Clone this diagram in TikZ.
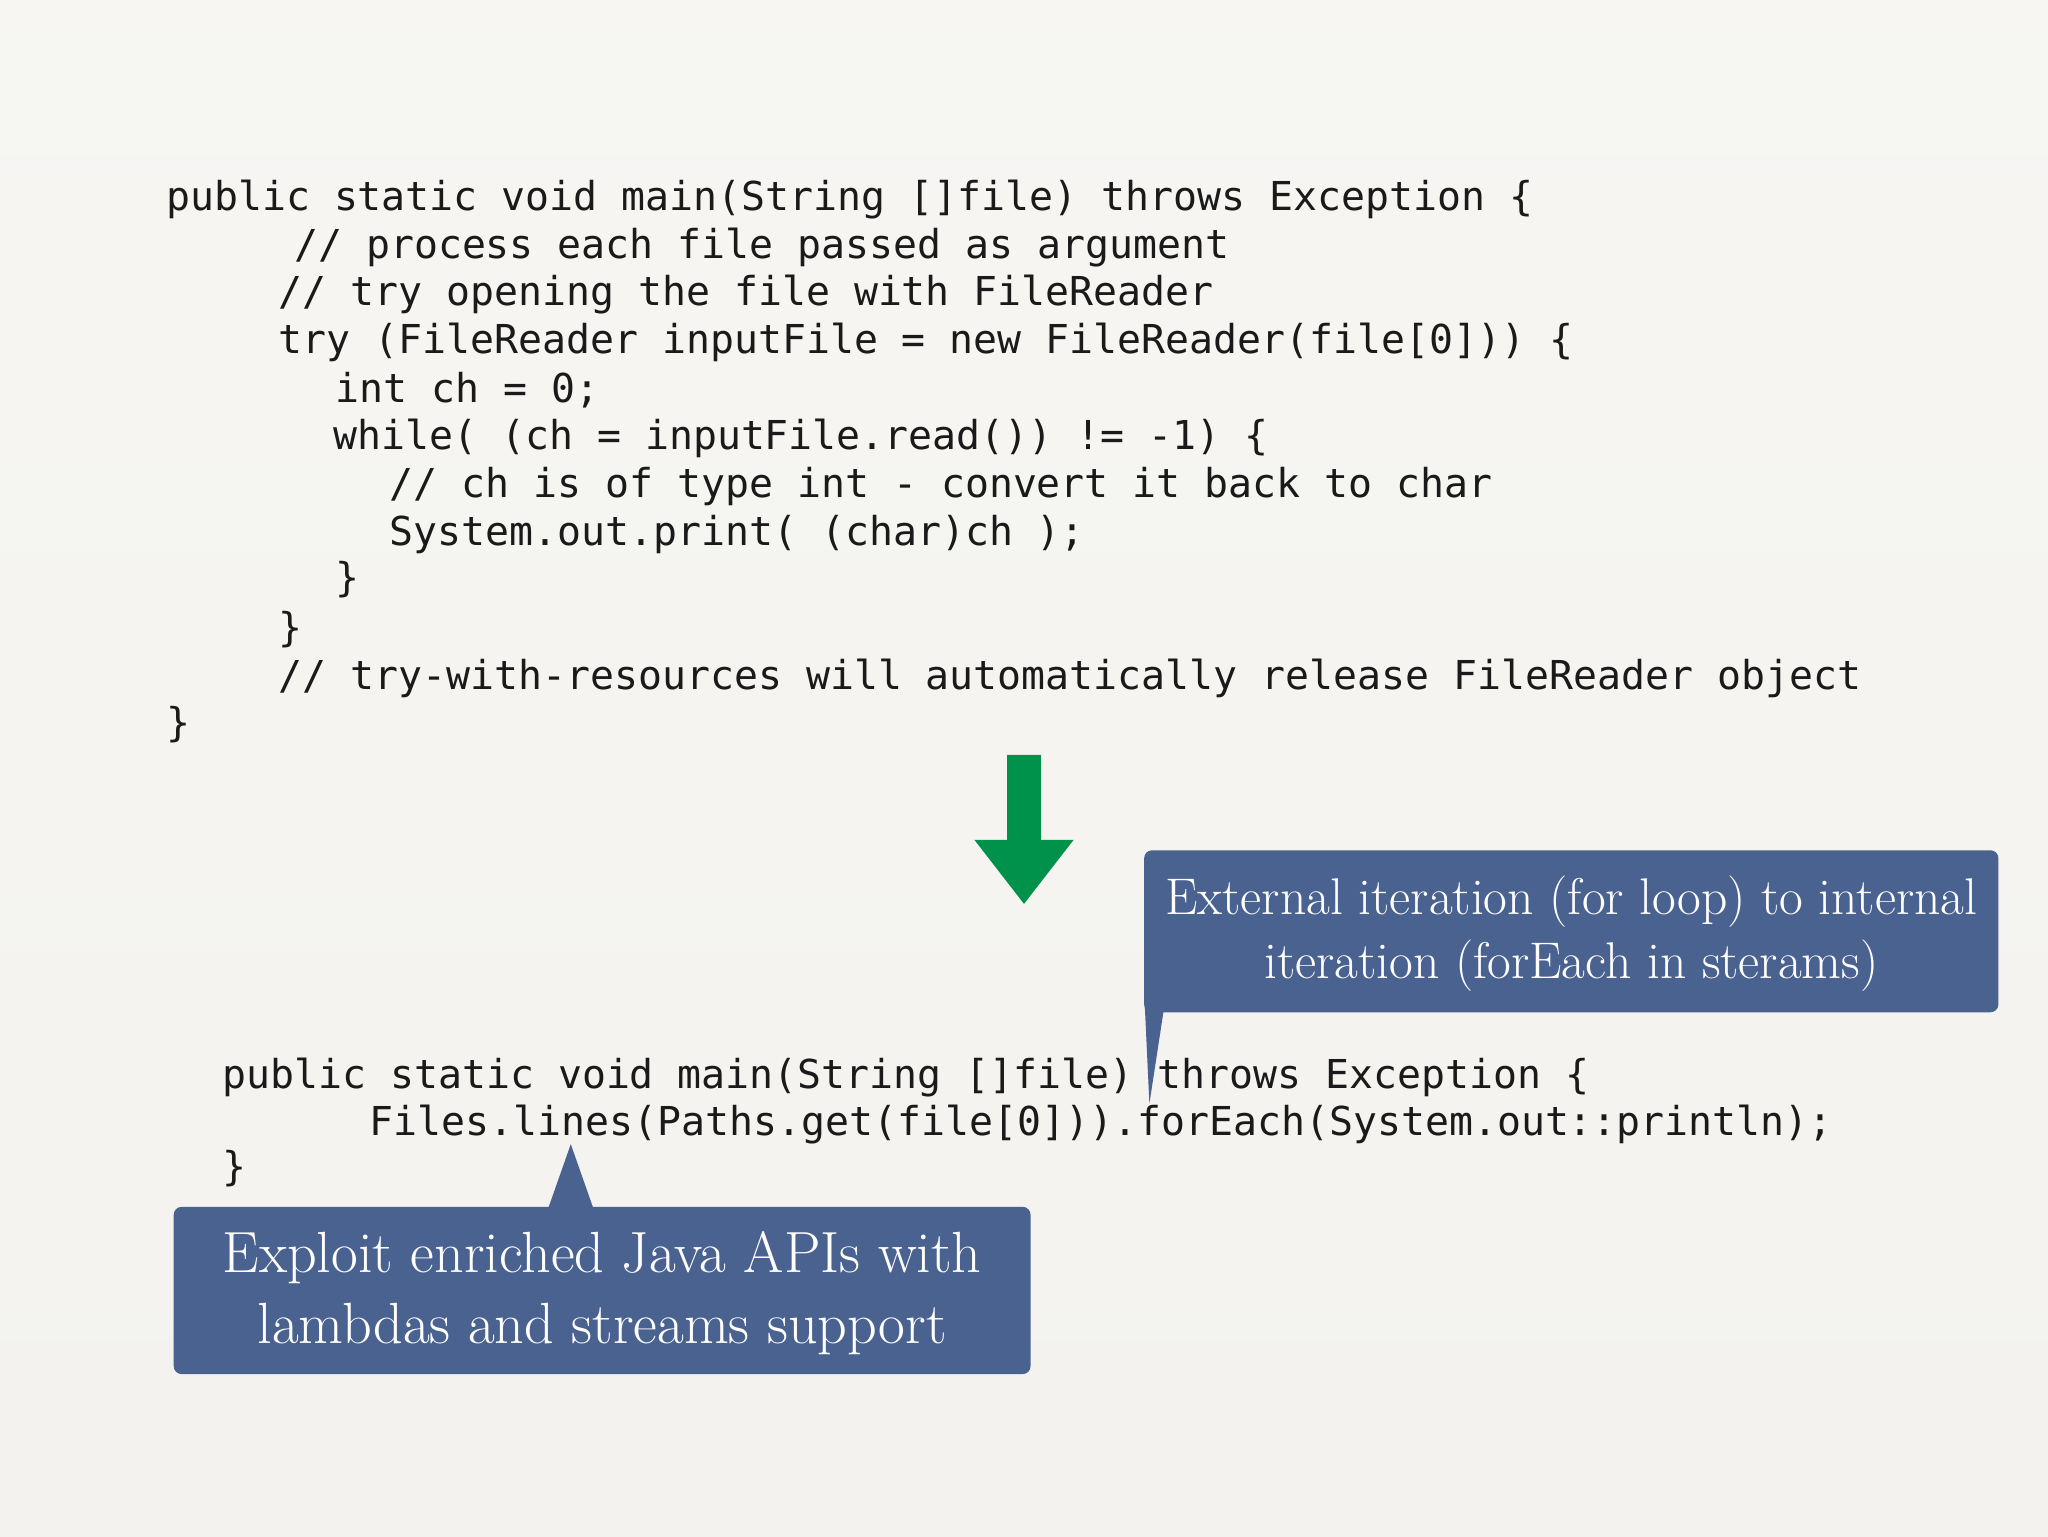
\documentclass[tikz,border=0pt]{standalone}
\usepackage{fontspec}
\newfontfamily\codefont{DejaVu Sans Mono}
\definecolor{bg}{HTML}{F3F2EE}
\definecolor{boxc}{HTML}{4A6290}
\definecolor{arrowc}{HTML}{00924A}
\definecolor{codec}{HTML}{1A1A1A}
\begin{document}
\begin{tikzpicture}[x=1pt,y=-1pt,
  code/.style={anchor=base west,inner sep=0pt,font=\codefont\fontsize{30.5}{37}\selectfont,text=codec},
  callout/.style={fill=boxc,rounded corners=6pt,draw=none},
  ctext/.style={text=white,align=center,inner sep=0pt}]
\fill[top color=bg!70!white,bottom color=bg] (0,0) rectangle (1568,1176);
\useasboundingbox (0,0) rectangle (1568,1176);
% top code
\node[code] (l1) at (127,161) {public static void main(String []file) throws Exception \{};
\node[code] (l2) at (225,198) {// process each file passed as argument};
\node[code] (l3) at (213,234) {// try opening the file with FileReader};
\node[code] (l4) at (213,271) {try (FileReader inputFile = new FileReader(file[0])) \{};
\node[code] (l5) at (257,308) {int ch = 0;};
\node[code] (l6) at (255,344) {while( (ch = inputFile.read()) != -1) \{};
\node[code] (l7) at (298,381) {// ch is of type int - convert it back to char};
\node[code] (l8) at (298,418) {System.out.print( (char)ch );};
\node[code] (l9) at (257,453) {\}};
\node[code] (l10) at (213,491) {\}};
\node[code] (l11) at (213,528) {// try-with-resources will automatically release FileReader object};
\node[code] (l12) at (127,564) {\}};
% arrow
\fill[arrowc] (771,578) -- (797,578) -- (797,643) -- (822,643) -- (784,692) -- (746,643) -- (771,643) -- cycle;
% bottom code
\node[code] (b1) at (170,833) {public static void main(String []file) throws Exception \{};
\node[code] (b2) at (283,869) {Files.lines(Paths.get(file[0])).forEach(System.out::println);};
\node[code] (b3) at (170,904) {\}};
% callout 1
\coordinate (p1) at (880,845);
\fill[boxc] (876,760) -- (893,760) -- (p1) -- cycle;
\fill[callout] (876,651) rectangle (1530,775);
\node[ctext,font=\fontsize{39.5}{49}\selectfont] (c1) at (1203,715) {External iteration (for loop) to internal\\iteration (forEach in sterams)};
% callout 2
\coordinate (p2) at (437,876);
\fill[boxc] (418,930) -- (p2) -- (456,930) -- cycle;
\fill[callout] (133,924) rectangle (789,1052);
\node[ctext,font=\fontsize{44.5}{54}\selectfont] (c2) at (461,990) {Exploit enriched Java APIs with\\lambdas and streams support};
\end{tikzpicture}
\end{document}
